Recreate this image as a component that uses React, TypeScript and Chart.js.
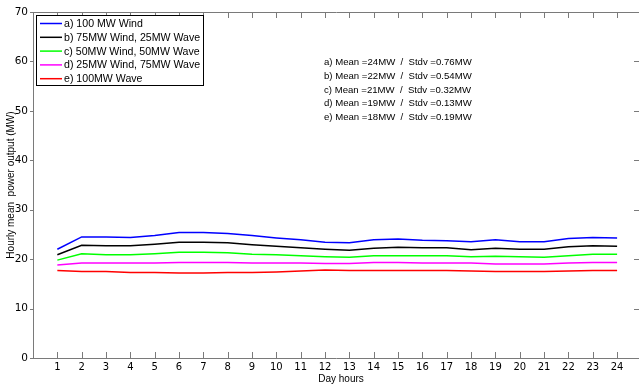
import React, { useEffect, useRef } from "react";
import { Chart, registerables } from "chart.js";

Chart.register(...registerables);

const hours = [1, 2, 3, 4, 5, 6, 7, 8, 9, 10, 11, 12, 13, 14, 15, 16, 17, 18, 19, 20, 21, 22, 23, 24];
const yTicks = [0, 10, 20, 30, 40, 50, 60, 70];

const windA = [22.0, 24.5, 24.5, 24.4, 24.8, 25.4, 25.4, 25.2, 24.8, 24.3, 23.9, 23.4, 23.3, 23.9, 24.1, 23.8, 23.7, 23.5, 23.9, 23.5, 23.5, 24.2, 24.4, 24.3];
const mixB = [20.9, 22.8, 22.7, 22.7, 23.0, 23.4, 23.4, 23.3, 22.9, 22.6, 22.3, 22.0, 21.8, 22.2, 22.4, 22.3, 22.3, 21.9, 22.2, 22.0, 22.0, 22.5, 22.7, 22.6];
const mixC = [19.8, 21.1, 20.9, 20.9, 21.1, 21.4, 21.4, 21.3, 21.0, 20.9, 20.7, 20.5, 20.4, 20.7, 20.7, 20.7, 20.7, 20.5, 20.6, 20.5, 20.4, 20.7, 21.0, 21.0];
const mixD = [18.8, 19.2, 19.2, 19.2, 19.2, 19.3, 19.3, 19.3, 19.2, 19.2, 19.2, 19.1, 19.1, 19.3, 19.3, 19.2, 19.2, 19.2, 19.0, 19.0, 19.0, 19.2, 19.3, 19.3];
const waveE = [17.7, 17.5, 17.5, 17.3, 17.3, 17.2, 17.2, 17.3, 17.3, 17.4, 17.6, 17.8, 17.7, 17.7, 17.7, 17.7, 17.7, 17.6, 17.5, 17.5, 17.5, 17.6, 17.7, 17.7];

const seriesLabels = [
  "a) 100 MW Wind",
  "b) 75MW Wind, 25MW Wave",
  "c) 50MW Wind, 50MW Wave",
  "d) 25MW Wind, 75MW Wave",
  "e) 100MW Wave",
];
const seriesColors = ["#0000ff", "#000000", "#00ff00", "#ff00ff", "#ff0000"];
const seriesValues = [windA, mixB, mixC, mixD, waveE];

const statsLabels = [
  "a) Mean =24MW  /  Stdv =0.76MW",
  "b) Mean =22MW  /  Stdv =0.54MW",
  "c) Mean =21MW  /  Stdv =0.32MW",
  "d) Mean =19MW  /  Stdv =0.13MW",
  "e) Mean =18MW  /  Stdv =0.19MW",
];

const xTitle = "Day hours";
const yTitle = "Hourly mean  power output (MW)";

const AXIS = "#7a7a7a";
const TEXT_FONT = "Liberation Sans, Arial, sans-serif";

const decorPlugin = {
  id: "decor",
  afterDraw(chart: any) {
    const ctx = chart.ctx;
    const { left, right, top, bottom } = chart.chartArea;
    const xs = chart.scales.x;
    const ys = chart.scales.y;
    ctx.save();
    // frame
    ctx.strokeStyle = AXIS;
    ctx.lineWidth = 1;
    ctx.beginPath();
    ctx.moveTo(left + 0.5, top + 0.5);
    ctx.lineTo(right + 0.5, top + 0.5);
    ctx.moveTo(left + 0.5, top + 0.5);
    ctx.lineTo(left + 0.5, bottom + 0.5);
    ctx.lineTo(right + 0.5, bottom + 0.5);
    ctx.stroke();
    // x ticks (inward, bottom and top)
    ctx.beginPath();
    hours.forEach((h) => {
      const px = Math.round(xs.getPixelForValue(h)) + 0.5;
      ctx.moveTo(px, bottom);
      ctx.lineTo(px, bottom - 6);
      ctx.moveTo(px, top);
      ctx.lineTo(px, top + 6);
    });
    // y ticks
    yTicks.forEach((v) => {
      const py = Math.round(ys.getPixelForValue(v)) + 0.5;
      ctx.moveTo(left - 3, py);
      ctx.lineTo(left + 1, py);
      ctx.moveTo(right, py);
      ctx.lineTo(right - 5, py);
    });
    ctx.stroke();

    // legend box
    const lx = 36, ly = 15, lw = 167, lh = 70;
    ctx.fillStyle = "#ffffff";
    ctx.fillRect(lx, ly, lw, lh);
    ctx.strokeStyle = "#000000";
    ctx.strokeRect(lx + 0.5, ly + 0.5, lw, lh);
    ctx.font = `10.6px ${TEXT_FONT}`;
    ctx.textBaseline = "middle";
    ctx.textAlign = "left";
    seriesLabels.forEach((lab, i) => {
      const cy = 23.5 + i * 13.8;
      ctx.strokeStyle = seriesColors[i];
      ctx.lineWidth = 1.5;
      ctx.beginPath();
      ctx.moveTo(40, cy);
      ctx.lineTo(62, cy);
      ctx.stroke();
      ctx.fillStyle = "#000000";
      ctx.fillText(lab, 64, cy + 0.5);
    });

    // stats text
    ctx.font = `9.6px ${TEXT_FONT}`;
    ctx.fillStyle = "#000000";
    statsLabels.forEach((s, i) => {
      ctx.fillText(s, 324, 62.5 + i * 13.7);
    });

    // axis titles
    ctx.font = `10px ${TEXT_FONT}`;
    ctx.textAlign = "center";
    ctx.fillText(xTitle, (left + right) / 2 + 5, 379);
    ctx.save();
    ctx.translate(11, (top + bottom) / 2);
    ctx.rotate(-Math.PI / 2);
    ctx.fillText(yTitle, 0, 0);
    ctx.restore();
    ctx.restore();
  },
};

export default function App() {
  const ref = useRef<HTMLCanvasElement | null>(null);
  useEffect(() => {
    if (!ref.current) return;
    const chart = new Chart(ref.current, {
      type: "line",
      data: {
        datasets: seriesValues.map((vals, i) => ({
          label: seriesLabels[i],
          data: vals.map((v, j) => ({ x: hours[j], y: v })),
          borderColor: seriesColors[i],
          backgroundColor: seriesColors[i],
          borderWidth: 1.5,
          pointRadius: 0,
          tension: 0,
          fill: false,
        })),
      },
      options: {
        responsive: false,
        animation: false,
        layout: { padding: { top: 12, right: 0, left: 0, bottom: 0 } },
        plugins: { legend: { display: false }, tooltip: { enabled: false }, title: { display: false } },
        scales: {
          x: {
            type: "linear",
            min: 0,
            max: 24.9,
            grid: { display: false, drawTicks: false },
            border: { display: false },
            afterBuildTicks: (s: any) => {
              s.ticks = hours.map((h) => ({ value: h }));
            },
            afterFit: (s: any) => {
              s.height = 27;
            },
            ticks: {
              autoSkip: false,
              maxRotation: 0,
              padding: 3,
              color: "#000000",
              font: { family: "DejaVu Sans", size: 10 },
            },
          },
          y: {
            min: 0,
            max: 70,
            grid: { display: false, drawTicks: false },
            border: { display: false },
            afterBuildTicks: (s: any) => {
              s.ticks = yTicks.map((v) => ({ value: v }));
            },
            afterFit: (s: any) => {
              s.width = 33;
            },
            ticks: {
              padding: 5,
              color: "#000000",
              font: { family: "DejaVu Sans", size: 10.5 },
            },
          },
        },
      },
      plugins: [decorPlugin],
    });
    return () => chart.destroy();
  }, []);
  return (
    <div style={{ position: "fixed", left: 0, top: 0, width: 639, height: 385, background: "#ffffff" }}>
      <canvas ref={ref} width={639} height={385} style={{ display: "block" }} />
    </div>
  );
}
